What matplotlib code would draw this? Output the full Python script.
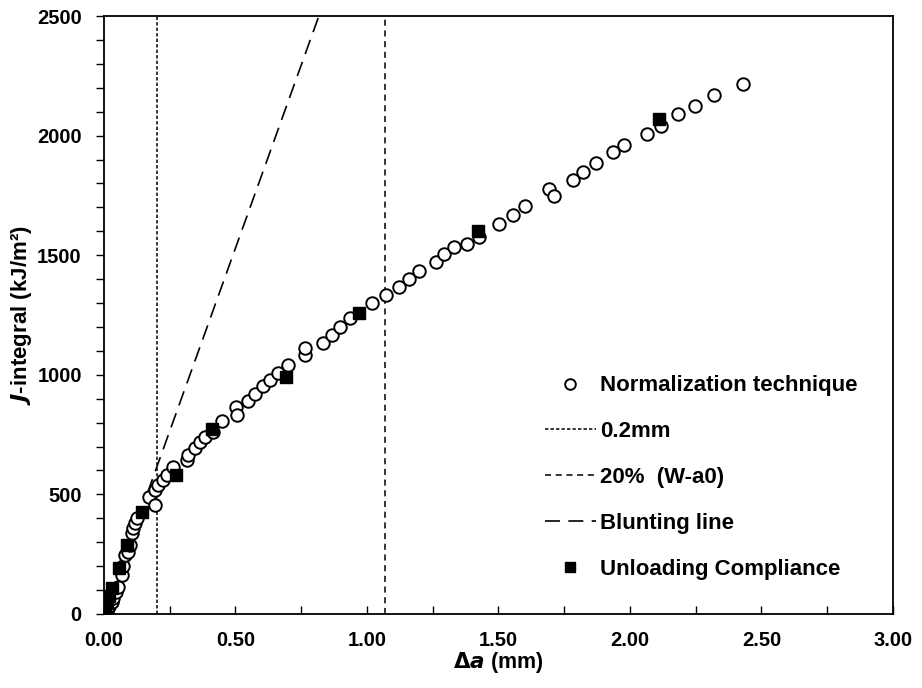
import matplotlib
matplotlib.use("Agg")
import matplotlib.pyplot as plt
import numpy as np
from matplotlib.ticker import MultipleLocator, FormatStrFormatter

plt.rcParams['font.family'] = ['Liberation Sans', 'DejaVu Sans']

# Normalization technique (open circles)
norm_da = [0.005, 0.010, 0.015, 0.020, 0.030, 0.035, 0.045, 0.054, 0.067, 0.074,
           0.080, 0.092, 0.097, 0.105, 0.111, 0.118, 0.124, 0.172, 0.194, 0.194,
           0.206, 0.226, 0.238, 0.263, 0.314, 0.321, 0.346, 0.365, 0.384, 0.414,
           0.450, 0.502, 0.507, 0.549, 0.574, 0.606, 0.631, 0.660, 0.701, 0.764,
           0.764, 0.831, 0.866, 0.897, 0.935, 1.018, 1.071, 1.122, 1.160, 1.199,
           1.261, 1.294, 1.332, 1.381, 1.426, 1.502, 1.556, 1.601, 1.693, 1.711,
           1.782, 1.822, 1.871, 1.934, 1.977, 2.063, 2.118, 2.181, 2.247, 2.321,
           2.431]
norm_J = [5, 15, 25, 35, 50, 66, 90, 114, 163, 200,
          247, 260, 290, 337, 358, 379, 400, 490, 456, 518,
          539, 560, 581, 616, 644, 665, 695, 720, 741, 761,
          808, 864, 832, 892, 920, 954, 978, 1006, 1041, 1083,
          1111, 1134, 1166, 1201, 1236, 1299, 1334, 1366, 1400, 1435,
          1473, 1505, 1536, 1545, 1577, 1630, 1668, 1706, 1777, 1747,
          1814, 1849, 1887, 1933, 1962, 2005, 2040, 2089, 2124, 2170,
          2216]

# Unloading compliance (filled squares)
uc_da = [0.005, 0.010, 0.020, 0.030, 0.058, 0.086, 0.143, 0.274, 0.409, 0.692, 0.971, 1.423, 2.110]
uc_J = [15, 45, 75, 110, 192, 290, 425, 583, 772, 992, 1260, 1603, 2068]

# Reference lines
offset_02 = 0.2
limit_20pct = 1.07
blunt_da = [0.165, 0.817]
blunt_slope = 3060.0

fig = plt.figure(figsize=(9.22, 6.88), dpi=100)
ax = fig.add_axes([0.1128, 0.1076, 0.8557, 0.8691])

ax.plot(norm_da, norm_J, linestyle='none', marker='o', markersize=9.0,
        markerfacecolor='white', markeredgecolor='black', markeredgewidth=1.4,
        label='Normalization technique', zorder=3)
ax.axvline(offset_02, color='black', lw=1.1, dashes=(2.2, 1.4), label='0.2mm', zorder=2)
ax.axvline(limit_20pct, color='black', lw=1.1, dashes=(4.0, 3.0), label='20%  (W-a0)', zorder=2)
bx = np.array(blunt_da)
ax.plot(bx, blunt_slope * bx, color='black', lw=1.2, dashes=(9, 5), label='Blunting line', zorder=2)
ax.plot(uc_da, uc_J, linestyle='none', marker='s', markersize=8.5,
        markerfacecolor='black', markeredgecolor='black',
        label='Unloading Compliance', zorder=4)

ax.set_xlim(0, 3.0)
ax.set_ylim(0, 2500)
ax.xaxis.set_major_locator(MultipleLocator(0.5))
ax.xaxis.set_minor_locator(MultipleLocator(0.25))
ax.yaxis.set_major_locator(MultipleLocator(500))
ax.yaxis.set_minor_locator(MultipleLocator(100))
ax.xaxis.set_major_formatter(FormatStrFormatter('%.2f'))

ax.tick_params(axis='x', which='both', direction='in', length=6, width=1.0,
               labelsize=14.5, pad=12)
ax.tick_params(axis='y', which='both', direction='out', length=6, width=1.0,
               labelsize=14.5, pad=10)
for lab in ax.get_xticklabels() + ax.get_yticklabels():
    lab.set_fontweight('bold')

for sp in ax.spines.values():
    sp.set_linewidth(1.3)

ax.set_xlabel(r'$\mathbf{\Delta}\boldsymbol{a}$ (mm)', fontsize=15.5, fontweight='bold', labelpad=0)
ax.set_ylabel('$\\boldsymbol{J}$-integral (kJ/m²)', fontsize=16, fontweight='bold', labelpad=2)

leg = ax.legend(loc='center left', bbox_to_anchor=(0.533, 0.228), frameon=False,
                handlelength=2.3, handletextpad=0.2, markerscale=0.85,
                labelspacing=1.12, prop={'weight': 'bold', 'size': 16})

fig.savefig('out.png', dpi=100)
